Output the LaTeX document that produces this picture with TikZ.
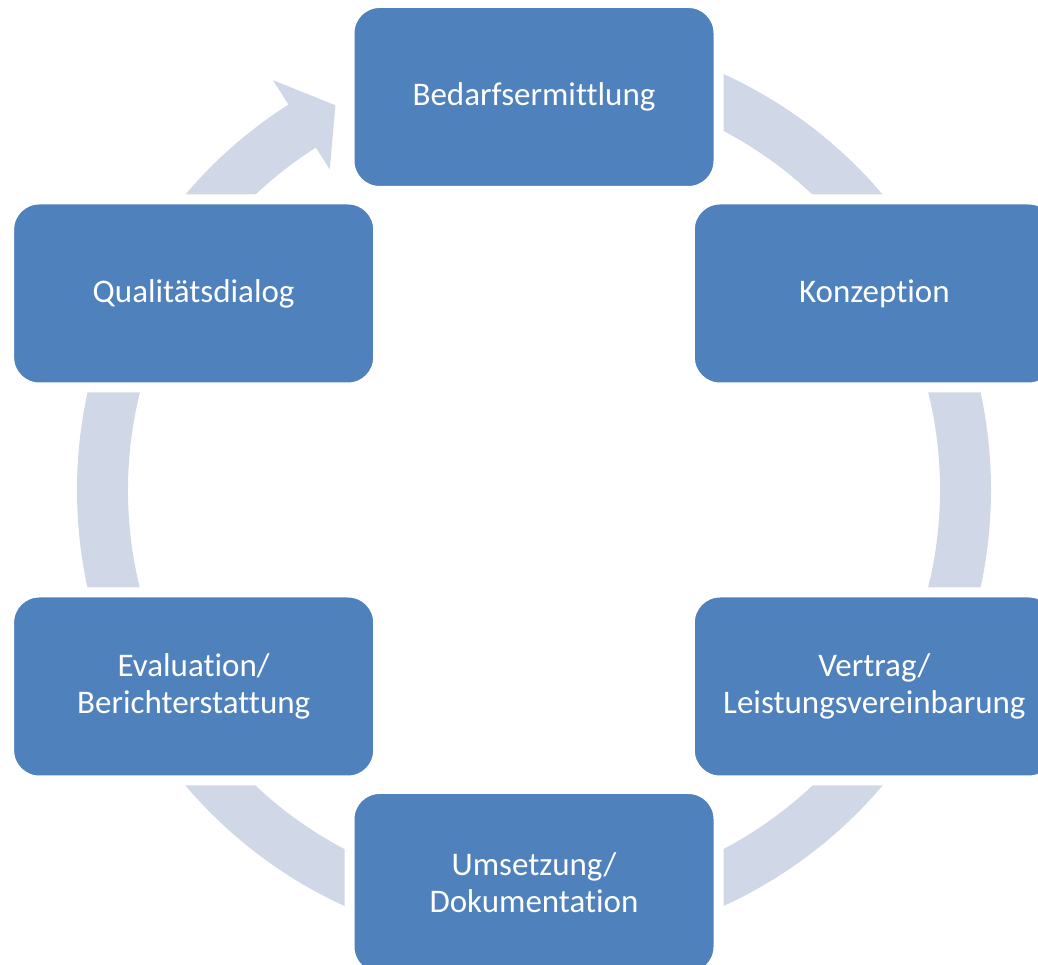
\documentclass[tikz,border=0pt]{standalone}
\usepackage{fontspec}
\setmainfont{Carlito}[Ligatures=NoCommon]
\usetikzlibrary{calc}
\definecolor{boxblue}{HTML}{4F81BD}
\definecolor{ringgray}{HTML}{D0D8E8}

\begin{document}
\begin{tikzpicture}[
    x=1pt, y=1pt,
    font=\fontsize{33}{37}\selectfont,
    phase/.style={draw=white, line width=10pt, fill=boxblue, text=white,
                  rounded corners=30pt, align=center, inner sep=0pt,
                  minimum width=369pt, minimum height=188pt},
    ring/.style={fill=ringgray, draw=none}
]
\useasboundingbox (0,0) rectangle (1038,965);
\coordinate (c) at (534,475);

% 1) ring with arrow head
\fill[ring] ($(c)+(90:457)$) arc[start angle=90, end angle=-237.5, radius=457]
    -- ($(c)+(-237.5:486)$) -- ($(c)+(-242.7:433)$) -- ($(c)+(-237.5:380)$)
    -- ($(c)+(-237.5:406)$) arc[start angle=-237.5, end angle=90, radius=406] -- cycle;

% 2) phases
\node[phase] (bedarf) at ($(c)+(90:393)$) {Bedarfsermittlung};
\node[phase] (konzept) at ($(c)+(30:393)$) {Konzeption};
\node[phase] (vertrag) at ($(c)+(-30:393)$) {Vertrag/\\Leistungsvereinbarung};
\node[phase] (umsetzung) at ($(c)+(-90:393)$) {Umsetzung/\\Dokumentation};
\node[phase] (evaluation) at ($(c)+(-150:393)$) {Evaluation/\\Berichterstattung};
\node[phase] (quali) at ($(c)+(150:393)$) {Qualitätsdialog};
\end{tikzpicture}
\end{document}
